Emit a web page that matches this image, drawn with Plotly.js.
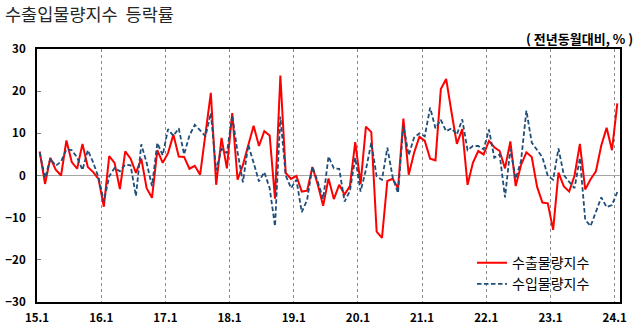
<!DOCTYPE html>
<html>
<head>
<meta charset="utf-8">
<script src="https://cdn.plot.ly/plotly-3.0.1.min.js"></script>
<style>
  html, body { margin: 0; padding: 0; background: #fff; }
  #chart { width: 640px; height: 331px; }
</style>
</head>
<body>
<div id="chart"></div>
<script>
// Months: 2015.01 .. 2024.01
const years = [15, 16, 17, 18, 19, 20, 21, 22, 23, 24];
const months = [];
years.forEach(y => { for (let m = 1; m <= 12; m++) { if (y === 24 && m > 1) break; months.push(y + '.' + m); } });

const yearTickLabels = ['15.1', '16.1', '17.1', '18.1', '19.1', '20.1', '21.1', '22.1', '23.1', '24.1'];

// 수출물량지수 (export volume index, YoY %)
const exportVol = [
  5.7, -2.0, 4.2, 1.4, 0.0, 8.3, 3.2, 1.6, 7.5, 2.0, 0.8, -0.8,
  -7.4, 4.6, 3.0, -3.2, 5.7, 4.0, 0.6, 4.0, -3.0, -5.3, 6.0, 3.0,
  5.3, 9.7, 4.5, 4.4, 1.6, 2.3, 0.2, 9.5, 19.6, -2.2, 8.9, 1.7,
  14.8, -1.0, 2.5, 7.2, 11.8, 7.0, 10.5, 9.5, -5.5, 23.7, 0.6, -0.8,
  -0.1, -3.8, -3.6, 2.0, -2.2, -7.2, -0.7, -5.6, -2.2, -4.5, -2.5, 7.9,
  -2.0, 11.6, 10.3, -13.3, -14.8, -1.3, -0.8, -3.0, 13.5, 0.2, 5.4, 9.2,
  8.2, 4.0, 3.6, 20.5, 22.9, 15.0, 7.5, 11.0, -2.2, 3.0, 5.8, 5.0,
  8.2, 6.7, 5.8, 1.7, 8.1, -2.5, 2.5, 5.5, 4.4, -2.7, -6.4, -6.6,
  -12.9, 0.7, -2.6, -3.8, 0.0, 7.5, -3.3, -0.9, 1.0, 7.1, 11.3, 6.0,
  17.1
];

// 수입물량지수 (import volume index, YoY %)
const importVol = [
  5.5, -0.6, 4.0, 2.3, 3.3, 6.2, 6.0, 4.3, 1.3, 6.0, 3.1, -0.5,
  -6.2, -0.2, 1.8, 1.0, 2.6, 2.4, -4.9, 7.4, 3.0, -2.5, 7.7, 4.8,
  11.0, 9.4, 11.2, 5.0, 9.5, 12.0, 10.7, 9.3, 14.8, 1.2, 6.3, 5.3,
  14.3, 5.5, -1.6, 7.3, 3.0, -1.4, 0.8, -3.0, -12.0, 14.0, 0.0, -3.0,
  -1.0, -8.7, -5.8, 2.1, -1.5, -5.6, 4.5, 1.7, 1.6, -6.2, -3.7, 4.2,
  -3.8, 1.4, 7.8, -0.2, -1.0, 6.6, -0.4, -4.2, 11.9, 4.8, 9.0, 10.0,
  9.3, 16.1, 11.2, 13.2, 10.5, 11.2, 9.7, 13.3, 6.0, 7.0, 7.0, 6.2,
  10.9, 4.2, 5.0, -5.2, 6.3, -0.8, 3.5, 15.4, 7.8, 6.0, 4.3, -0.1,
  -1.0, 6.4, 0.1, -1.5, -3.0, 4.2, -10.5, -12.0, -8.7, -5.2, -7.5, -7.0,
  -3.9
];

const seriesNames = ['수출물량지수', '수입물량지수'];

const xIdx = months.map((_, i) => i);
const tickPos = yearTickLabels.map(l => months.indexOf(l) - 0.5);

const font = 'Noto Sans CJK KR, Noto Sans, sans-serif';

const traces = [
  {
    x: xIdx, y: exportVol, name: seriesNames[0], type: 'scatter', mode: 'lines',
    line: { color: '#FF0000', width: 2 },
    text: months, hovertemplate: '%{text}: %{y}<extra></extra>'
  },
  {
    x: xIdx, y: importVol, name: seriesNames[1], type: 'scatter', mode: 'lines',
    line: { color: '#1F4E79', width: 1.8, dash: '4.5px,2.5px' },
    text: months, hovertemplate: '%{text}: %{y}<extra></extra>'
  }
];

const layout = {
  width: 640, height: 331,
  margin: { l: 37, r: 20, t: 49, b: 29 },
  paper_bgcolor: '#fff', plot_bgcolor: '#fff',
  showlegend: true,
  title: {
    text: '수출입물량지수  등락률',
    x: 5 / 640, xanchor: 'left', xref: 'container',
    y: 1 - 15 / 331, yanchor: 'middle', yref: 'container',
    font: { family: font, size: 17.5, color: '#262626' }
  },
  xaxis: {
    type: 'linear',
    range: [-0.5, months.length - 0.5],
    tickmode: 'array', tickvals: tickPos, ticktext: yearTickLabels,
    showgrid: true, gridcolor: '#8C8C8C', gridwidth: 1, griddash: '3px,3px',
    showline: true, linecolor: '#000', linewidth: 2, mirror: true,
    ticks: '', zeroline: false,
    tickfont: { family: font, size: 11.5, color: '#000', weight: 'bold' },
    ticklabelstandoff: 4
  },
  yaxis: {
    range: [-30, 30], dtick: 10, tick0: 0,
    showgrid: false,
    zeroline: true, zerolinecolor: '#A6A6A6', zerolinewidth: 1.5,
    showline: true, linecolor: '#000', linewidth: 2, mirror: true,
    ticks: 'inside', ticklen: 4, tickcolor: '#808080', tickwidth: 1,
    tickfont: { family: font, size: 11.5, color: '#000', weight: 'bold' },
    ticklabelstandoff: 7
  },
  legend: {
    x: (472 - 37) / 583, xanchor: 'left',
    y: (301.7 - 247) / 252.4, yanchor: 'top',
    bgcolor: 'rgba(0,0,0,0)',
    font: { family: font, size: 14, color: '#000' },
    tracegroupgap: 0, itemwidth: 30
  },
  annotations: [
    {
      text: '( 전년동월대비, % )', showarrow: false,
      xref: 'paper', x: (635 - 37) / 583, xanchor: 'right',
      yref: 'paper', y: 1 + (49.3 - 38.5) / 252.4, yanchor: 'middle',
      font: { family: font, size: 13, color: '#000', weight: 'bold' }
    }
  ]
};

Plotly.newPlot('chart', traces, layout, { displayModeBar: false, staticPlot: true });
</script>
</body>
</html>
